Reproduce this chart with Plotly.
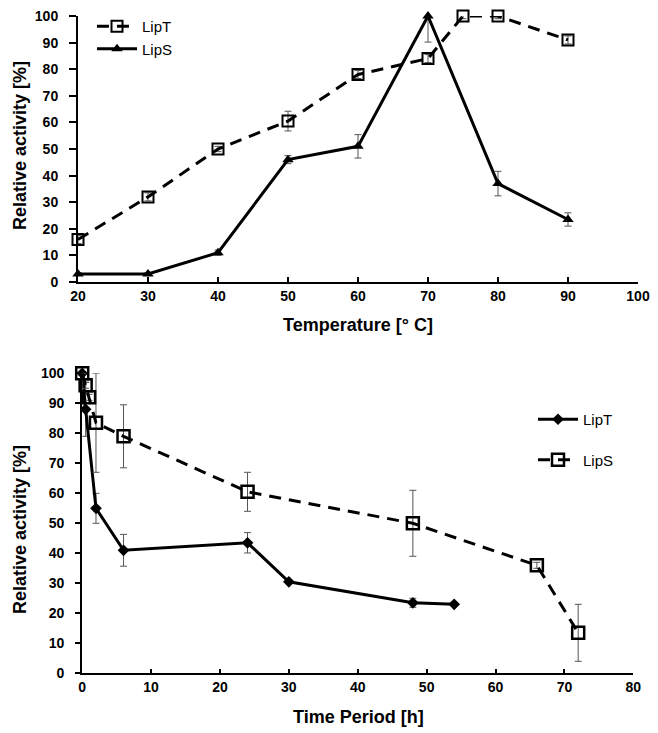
import plotly.graph_objects as go

# ---- Top chart: temperature ----
temp_lipT_x = [20, 30, 40, 50, 60, 70, 75, 80, 90]
temp_lipT_y = [16, 32, 50, 60.5, 78, 84, 100, 100, 91]
temp_lipT_err = [1.5, 1.5, 1, 3.7, 1.5, 1.5, 1, 1, 1.5]

temp_lipS_x = [20, 30, 40, 50, 60, 70, 80, 90]
temp_lipS_y = [3, 3, 11, 46, 51, 100, 37, 23.5]
temp_lipS_err = [0.5, 0.5, 1, 1.5, 4.4, 9.8, 4.6, 2.5]

# ---- Bottom chart: time ----
time_lipT_x = [0, 0.5, 2, 6, 24, 30, 48, 54]
time_lipT_y = [100, 88, 55, 41, 43.5, 30.5, 23.5, 23]
time_lipT_err = [0, 9, 5, 5.3, 3.4, 0.5, 1.5, 0]

time_lipS_x = [0, 0.5, 1, 2, 6, 24, 48, 66, 72]
time_lipS_y = [100, 96, 92, 83.5, 79, 60.5, 50, 36, 13.5]
time_lipS_err = [0, 1, 1, 16.5, 10.5, 6.5, 11, 1, 9.5]

y_ticks = list(range(0, 101, 10))
temp_ticks = list(range(20, 101, 10))
time_ticks = list(range(0, 81, 10))

# page body has an 8px margin, so the figure is 8px smaller and offset
OFF = 8
W, H = 658 - OFF, 733 - OFF
FONT = "Arial, Liberation Sans, sans-serif"
ERRC = "#555555"

def err(vals):
    return dict(type="data", array=vals, visible=True, color=ERRC, thickness=1, width=3.5)

fig = go.Figure()

fig.add_trace(go.Scatter(
    x=temp_lipT_x, y=temp_lipT_y, error_y=err(temp_lipT_err), name="LipT",
    mode="lines+markers", xaxis="x", yaxis="y", legend="legend",
    line=dict(color="black", width=3, dash="12px,8px"),
    marker=dict(symbol="square-open", size=11, color="black", line=dict(width=2, color="black")),
    cliponaxis=False))
fig.add_trace(go.Scatter(
    x=temp_lipS_x, y=temp_lipS_y, error_y=err(temp_lipS_err), name="LipS",
    mode="lines+markers", xaxis="x", yaxis="y", legend="legend",
    line=dict(color="black", width=3),
    marker=dict(symbol="triangle-up", size=10, color="black"),
    cliponaxis=False))

fig.add_trace(go.Scatter(
    x=time_lipT_x, y=time_lipT_y, error_y=err(time_lipT_err), name="LipT",
    mode="lines+markers", xaxis="x2", yaxis="y2", legend="legend2", legendgroup="a",
    line=dict(color="black", width=3),
    marker=dict(symbol="diamond", size=9, color="black"),
    cliponaxis=False))
fig.add_trace(go.Scatter(
    x=time_lipS_x, y=time_lipS_y, error_y=err(time_lipS_err), name="LipS",
    mode="lines+markers", xaxis="x2", yaxis="y2", legend="legend2", legendgroup="b",
    line=dict(color="black", width=3, dash="12px,8px"),
    marker=dict(symbol="square-open", size=12, color="black", line=dict(width=2.5, color="black")),
    cliponaxis=False))

tickfont = dict(family=FONT, size=14, color="black", weight="bold")

def px_x(p):
    return (p - OFF) / W

def px_y(p):
    return 1 - (p - OFF) / H

axis_common = dict(showline=True, linecolor="black", linewidth=2, showgrid=False,
                   zeroline=False, tickfont=tickfont, tickcolor="black", automargin=False,
                   ticklabeloverflow="allow")

title_font = dict(family=FONT, size=18, color="black", weight="bold")

fig.update_layout(
    width=W, height=H, margin=dict(l=0, r=0, t=0, b=0),
    paper_bgcolor="white", plot_bgcolor="white", showlegend=True,
    xaxis=dict(domain=[px_x(78), px_x(638)], range=[20, 100], tickvals=temp_ticks,
               ticks="inside", ticklen=5, tickwidth=2, anchor="y", **axis_common),
    yaxis=dict(domain=[px_y(282), px_y(16)], range=[0, 100], tickvals=y_ticks,
               ticks="outside", ticklen=7, tickwidth=2, anchor="x",
               ticklabelstandoff=8, **axis_common),
    xaxis2=dict(domain=[px_x(82.2), px_x(633.3)], range=[0, 80], tickvals=time_ticks,
                ticks="inside", ticklen=4, tickwidth=2, anchor="y2", **axis_common),
    yaxis2=dict(domain=[px_y(673.3), px_y(373.3)], range=[0, 100], tickvals=y_ticks,
                ticks="outside", ticklen=5, tickwidth=2, anchor="x2",
                ticklabelstandoff=8, **axis_common),
    legend=dict(x=px_x(92), y=px_y(10), xanchor="left", yanchor="top",
                font=dict(family=FONT, size=15, color="black"), itemwidth=40,
                bgcolor="rgba(0,0,0,0)", tracegroupgap=0),
    legend2=dict(x=px_x(533), y=px_y(403), xanchor="left", yanchor="top",
                 font=dict(family=FONT, size=15, color="black"), itemwidth=40,
                 bgcolor="rgba(0,0,0,0)", traceorder="grouped", tracegroupgap=18),
    annotations=[
        dict(text="Temperature [° C]", x=px_x(358), y=px_y(325), xref="paper", yref="paper",
             xanchor="center", yanchor="middle", showarrow=False, font=title_font),
        dict(text="Relative activity [%]", x=px_x(20), y=px_y(146), xref="paper", yref="paper",
             xanchor="center", yanchor="middle", textangle=-90, showarrow=False, font=title_font),
        dict(text="Time Period [h]", x=px_x(358), y=px_y(717), xref="paper", yref="paper",
             xanchor="center", yanchor="middle", showarrow=False, font=title_font),
        dict(text="Relative activity [%]", x=px_x(20), y=px_y(530), xref="paper", yref="paper",
             xanchor="center", yanchor="middle", textangle=-90, showarrow=False, font=title_font),
    ],
)

fig.write_html("out.html")
